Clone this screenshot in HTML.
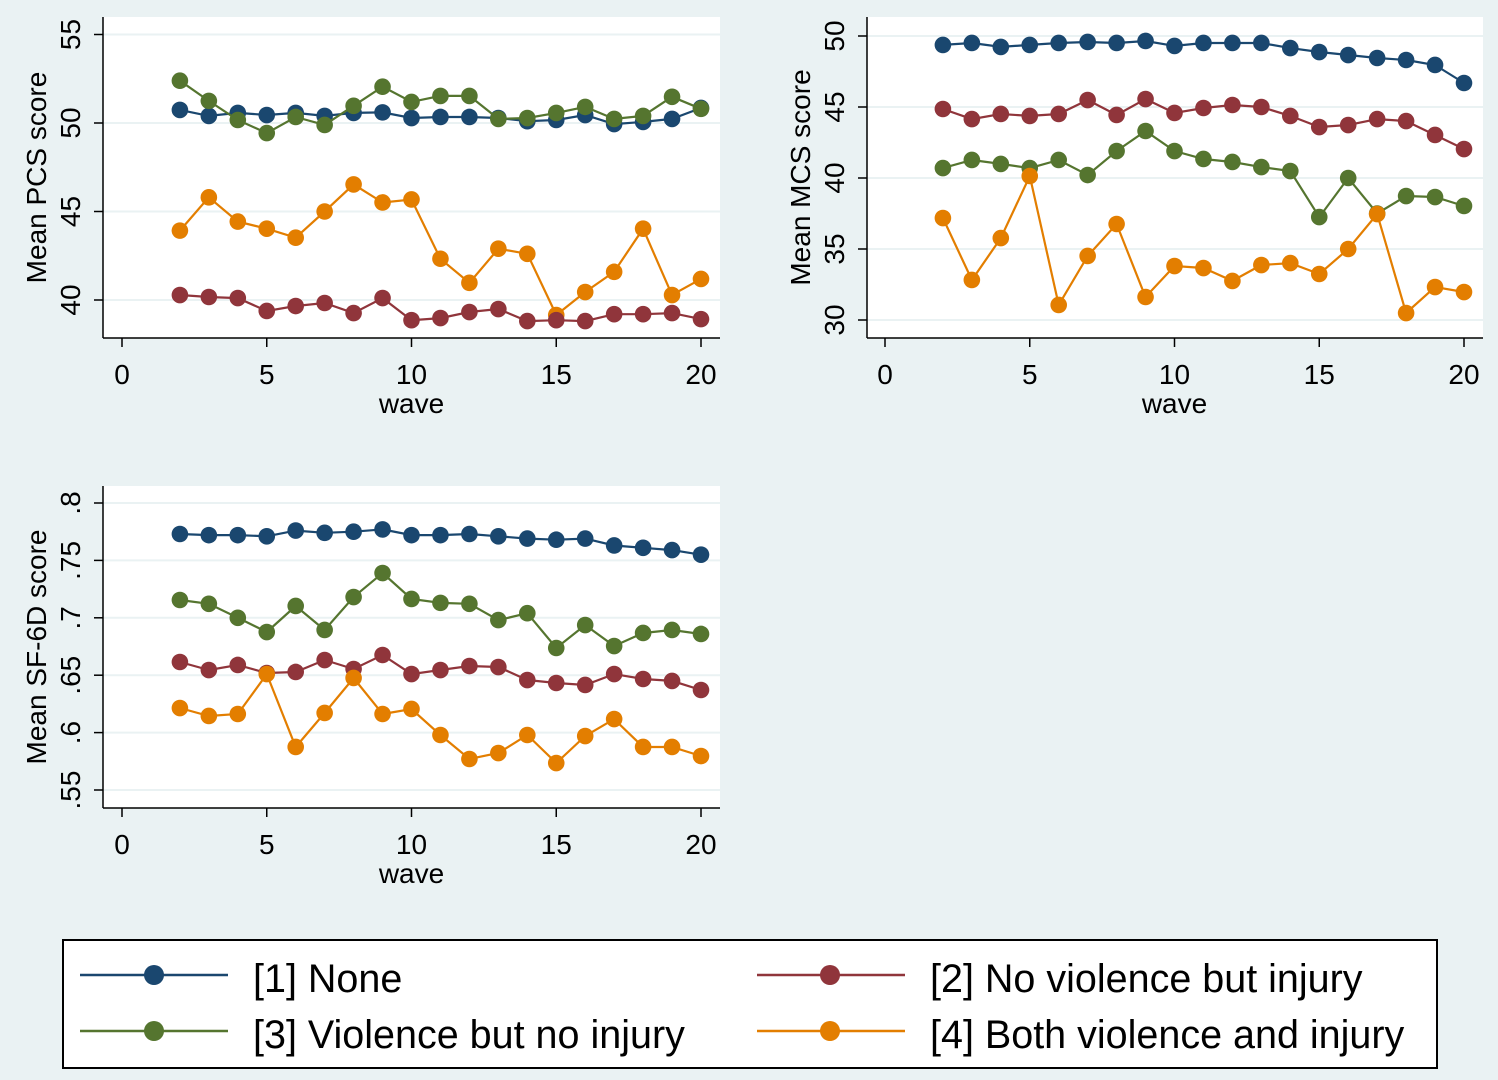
<!DOCTYPE html>
<html><head><meta charset="utf-8"><style>
html,body{margin:0;padding:0;background:#eaf2f3}
svg{display:block;font-family:"Liberation Sans",Arial,sans-serif}
</style></head><body>
<svg id="chart" width="1498" height="1080" viewBox="0 0 1498 1080" xmlns="http://www.w3.org/2000/svg">
<rect width="1498" height="1080" fill="#eaf2f3"/>
<g id="panels"></g>
<g>
<rect x="63" y="940" width="1374" height="128" fill="#fff" stroke="#000" stroke-width="2"/>
<g><line x1="80" y1="975" x2="228" y2="975" stroke="#1a476f" stroke-width="2.5"/><circle cx="154" cy="975" r="10" fill="#1a476f"/><text x="253" y="992" font-size="39.5">[1] None</text></g>
<g><line x1="757" y1="975" x2="905" y2="975" stroke="#90353b" stroke-width="2.5"/><circle cx="830" cy="975" r="10" fill="#90353b"/><text x="930" y="992" font-size="39.5">[2] No violence but injury</text></g>
<g><line x1="80" y1="1031" x2="228" y2="1031" stroke="#55752f" stroke-width="2.5"/><circle cx="154" cy="1031" r="10" fill="#55752f"/><text x="253" y="1048" font-size="39.5">[3] Violence but no injury</text></g>
<g><line x1="757" y1="1031" x2="905" y2="1031" stroke="#e37e00" stroke-width="2.5"/><circle cx="830" cy="1031" r="10" fill="#e37e00"/><text x="930" y="1048" font-size="39.5">[4] Both violence and injury</text></g>
</g>
</svg>
<script>
const waves = [2,3,4,5,6,7,8,9,10,11,12,13,14,15,16,17,18,19,20];
const xTicks = [0,5,10,15,20];
const seriesColors = ["#1a476f","#90353b","#55752f","#e37e00"];
const seriesNames = ["none","no-violence-but-injury","violence-but-no-injury","both-violence-and-injury"];
const pcsNone = [50.74,50.4,50.57,50.45,50.57,50.4,50.57,50.6,50.28,50.34,50.34,50.28,50.1,50.17,50.45,49.94,50.06,50.23,50.85];
const pcsInjury = [40.28,40.17,40.11,39.38,39.66,39.83,39.26,40.11,38.86,38.98,39.32,39.49,38.81,38.86,38.81,39.2,39.2,39.26,38.92];
const pcsViolence = [52.39,51.25,50.17,49.43,50.34,49.89,50.97,52.05,51.19,51.53,51.53,50.23,50.28,50.57,50.91,50.23,50.4,51.48,50.8];
const pcsBoth = [43.92,45.8,44.43,44.03,43.52,45.0,46.53,45.51,45.68,42.33,40.97,42.9,42.61,39.15,40.45,41.59,44.03,40.28,41.19];
const pcsTicks = [40,45,50,55];
const mcsNone = [49.37,49.51,49.23,49.37,49.51,49.58,49.51,49.65,49.3,49.51,49.51,49.51,49.15,48.87,48.66,48.45,48.31,47.96,46.69];
const mcsInjury = [44.86,44.15,44.51,44.37,44.51,45.49,44.44,45.56,44.58,44.93,45.14,45.0,44.37,43.59,43.73,44.15,44.01,43.03,42.04];
const mcsViolence = [40.7,41.27,40.99,40.7,41.27,40.21,41.9,43.31,41.9,41.34,41.13,40.77,40.49,37.25,40.0,37.5,38.73,38.66,38.03];
const mcsBoth = [37.18,32.82,35.77,40.14,31.06,34.51,36.76,31.62,33.8,33.66,32.75,33.87,34.01,33.24,35.0,37.46,30.49,32.32,31.97];
const mcsTicks = [30,35,40,45,50];
const sfNone = [.773,.772,.772,.771,.776,.774,.775,.777,.772,.772,.773,.771,.769,.768,.769,.763,.761,.759,.755];
const sfInjury = [.6615,.6545,.6589,.6519,.6528,.6632,.6554,.6676,.651,.6545,.658,.6571,.6458,.6432,.6415,.651,.6467,.645,.6371];
const sfViolence = [.7155,.7122,.700,.6876,.7103,.6894,.7181,.739,.7164,.713,.7122,.698,.704,.6737,.6937,.6754,.6868,.6894,.6859];
const sfBoth = [.6214,.6145,.6162,.651,.5875,.6171,.6476,.6162,.6206,.5979,.577,.5822,.5979,.5735,.597,.6118,.5875,.5875,.5796];
const sfTicks = [.55,.6,.65,.7,.75,.8];
const sfTickLabels = [".55",".6",".65",".7",".75",".8"];

const NS="http://www.w3.org/2000/svg";
function mk(parent,tag,attrs){const e=document.createElementNS(NS,tag);for(const k in attrs)e.setAttribute(k,attrs[k]);parent.appendChild(e);return e;}

const panels=[
 {name:"pcs",title:"Mean PCS score",box:[103,17,720,338],x0:122,x1:701,yv:[50,40],yp:[123,300],ticks:pcsTicks,labels:pcsTicks.map(String),series:[pcsNone,pcsInjury,pcsViolence,pcsBoth],order:[0,2,3,1]},
 {name:"mcs",title:"Mean MCS score",box:[867,17,1483,338],x0:885,x1:1464,yv:[50,30],yp:[36,320],ticks:mcsTicks,labels:mcsTicks.map(String),series:[mcsNone,mcsInjury,mcsViolence,mcsBoth],order:[0,1,2,3]},
 {name:"sf6d",title:"Mean SF-6D score",box:[103,486,720,808],x0:122,x1:701,yv:[.8,.55],yp:[503,790],ticks:sfTicks,labels:sfTickLabels,series:[sfNone,sfInjury,sfViolence,sfBoth],order:[0,1,2,3]}
];
const root=document.getElementById('panels');
panels.forEach(p=>{
 const g=mk(root,'g',{});
 
 
 const [l,t,r,b]=p.box;
 const xs=v=>p.x0+(v-0)*(p.x1-p.x0)/20;
 const ys=v=>p.yp[0]+(v-p.yv[0])*(p.yp[1]-p.yp[0])/(p.yv[1]-p.yv[0]);
 const pr=mk(g,'rect',{x:l,y:t,width:r-l,height:b-t,fill:'#fff'});
 
 
 p.ticks.forEach((tv,i)=>{
  const y=ys(tv);
  const gl=mk(g,'line',{x1:l,x2:r,y1:y,y2:y,stroke:'#eaf2f3','stroke-width':2});
  
  
  mk(g,'line',{x1:l-9,x2:l,y1:y,y2:y,stroke:'#000','stroke-width':1.5});
  const tx=mk(g,'text',{x:0,y:0,'font-size':28,'text-anchor':'middle',transform:`translate(${l-23},${y}) rotate(-90)`});
  tx.textContent=p.labels[i];
  
  
 });
 mk(g,'line',{x1:l,x2:l,y1:t,y2:b,stroke:'#000','stroke-width':1.5});
 mk(g,'line',{x1:l,x2:r,y1:b,y2:b,stroke:'#000','stroke-width':1.5});
 xTicks.forEach(tv=>{
  const x=xs(tv);
  mk(g,'line',{x1:x,x2:x,y1:b,y2:b+9,stroke:'#000','stroke-width':1.5});
  const tx=mk(g,'text',{x:x,y:b+46,'font-size':28,'text-anchor':'middle'});
  tx.textContent=String(tv);
  
  
 });
 const xt=mk(g,'text',{x:(p.x0+p.x1)/2,y:b+75,'font-size':28,'text-anchor':'middle'});
 xt.textContent='wave';
 
 
 const yt=mk(g,'text',{x:0,y:0,'font-size':28,'text-anchor':'middle',transform:`translate(${l-57},${(t+b)/2}) rotate(-90)`});
 yt.textContent=p.title;
 
 
 p.order.forEach(si=>{
  const data=p.series[si];
  const sg=mk(g,'g',{});
  
  
  const pts=data.map((v,i)=>xs(waves[i]).toFixed(1)+','+ys(v).toFixed(1)).join(' ');
  const pl=mk(sg,'polyline',{points:pts,fill:'none',stroke:seriesColors[si],'stroke-width':2.2});
  
  
  data.forEach((v,i)=>{
   const c=mk(sg,'circle',{cx:xs(waves[i]),cy:ys(v),r:8.3,fill:seriesColors[si]});
   
   
  });
 });
});
</script>
</body></html>
